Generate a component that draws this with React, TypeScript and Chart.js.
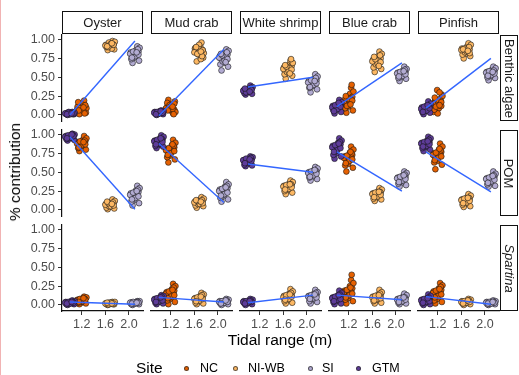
import React, { useEffect, useRef } from "react";
import { Chart, registerables } from "chart.js";

Chart.register(...registerables);

// ---------- data ----------
const species = ["Oyster", "Mud crab", "White shrimp", "Blue crab", "Pinfish"];
const sources = ["Benthic algae", "POM", "Spartina"];
const sites = ["NC", "NI-WB", "SI", "GTM"];
const siteColors = ["#E66101", "#FDB863", "#B2ABD2", "#5E3C99"];
const siteTidalRange = [1.2, 1.68, 2.1, 1.0];
const xTicks = [1.2, 1.6, 2.0];
const yTicks = [0, 0.25, 0.5, 0.75, 1];
const xLimits = [0.866, 2.237];
const yLimits = [-0.08, 1.06];
// horizontal jitter offsets (tidal-range units) applied to the i-th point of a cluster
const jitterX = [-0.05, 0.02, 0.07, -0.07, 0.04, -0.01, 0.06, -0.04, 0.0, 0.08, -0.06, 0.03, -0.02, 0.05, -0.08, 0.01, -0.03, 0.06, -0.05, 0.03];

// Benthic algae (per species: Oyster, Mud crab, White shrimp, Blue crab, Pinfish)
const benthicNC = [
  [0.08, 0.15, 0.03, 0.11, 0.19, 0.06, 0.12, 0.01, 0.14, 0.09, 0.17, 0.05, 0.10, 0.02, 0.07, 0.11, 0.09, 0.13, 0.06, 0.10],
  [0.12, 0.05, 0.18, 0.09, 0.02, 0.14, 0.07, 0.20, 0.11, 0.04, 0.16, 0.08, 0.13, 0.01, 0.09, 0.12, 0.10, 0.15, 0.06, 0.11],
  [],
  [0.15, 0.28, 0.06, 0.20, 0.36, 0.11, 0.24, 0.03, 0.18, 0.31, 0.09, 0.22, 0.13, 0.40, 0.16, 0.21, 0.12, 0.19, 0.25, 0.14],
  [0.18, 0.09, 0.27, 0.04, 0.21, 0.33, 0.12, 0.16, 0.02, 0.25, 0.07, 0.30, 0.14, 0.19, 0.15, 0.20, 0.11, 0.17, 0.23, 0.13],
];
const benthicNIWB = [
  [0.91, 0.95, 0.87, 0.93, 0.98, 0.89, 0.94, 0.86, 0.92, 0.97, 0.90, 0.88, 0.96, 0.93, 0.92, 0.94, 0.90, 0.93, 0.91, 0.95],
  [0.84, 0.91, 0.76, 0.88, 0.96, 0.80, 0.86, 0.71, 0.93, 0.82, 0.89, 0.74, 0.85, 0.78, 0.83, 0.87, 0.81, 0.86, 0.90, 0.84],
  [0.60, 0.67, 0.52, 0.63, 0.72, 0.56, 0.65, 0.48, 0.59, 0.69, 0.54, 0.62, 0.57, 0.74, 0.61, 0.58, 0.64, 0.60, 0.66, 0.55],
  [0.70, 0.78, 0.61, 0.73, 0.84, 0.66, 0.75, 0.57, 0.69, 0.81, 0.63, 0.72, 0.67, 0.79, 0.71, 0.68, 0.74, 0.70, 0.77, 0.65],
  [0.85, 0.91, 0.78, 0.88, 0.95, 0.81, 0.87, 0.75, 0.84, 0.93, 0.80, 0.89, 0.83, 0.90, 0.86, 0.84, 0.88, 0.82, 0.87, 0.85],
];
const benthicSI = [
  [0.80, 0.86, 0.72, 0.83, 0.91, 0.76, 0.84, 0.69, 0.79, 0.89, 0.74, 0.82, 0.78, 0.87, 0.81, 0.78, 0.84, 0.80, 0.76, 0.83],
  [0.75, 0.82, 0.64, 0.78, 0.87, 0.69, 0.80, 0.59, 0.73, 0.85, 0.67, 0.77, 0.71, 0.83, 0.76, 0.72, 0.79, 0.74, 0.81, 0.70],
  [0.42, 0.48, 0.34, 0.45, 0.54, 0.38, 0.46, 0.30, 0.41, 0.51, 0.36, 0.44, 0.39, 0.49, 0.43, 0.40, 0.46, 0.42, 0.37, 0.45],
  [0.54, 0.59, 0.48, 0.56, 0.64, 0.50, 0.57, 0.45, 0.53, 0.61, 0.49, 0.55, 0.52, 0.60, 0.55, 0.52, 0.57, 0.54, 0.51, 0.58],
  [0.55, 0.60, 0.49, 0.57, 0.64, 0.51, 0.58, 0.46, 0.54, 0.62, 0.50, 0.56, 0.53, 0.59, 0.56, 0.53, 0.58, 0.55, 0.52, 0.57],
];
const benthicGTM = [
  [0.02, 0.03, 0.01, 0.02, 0.04, 0.01, 0.03, 0.00, 0.02, 0.03, 0.01, 0.02, 0.04, 0.01, 0.02, 0.01, 0.03, 0.02, 0.01, 0.02],
  [0.03, 0.05, 0.01, 0.04, 0.06, 0.02, 0.03, 0.00, 0.04, 0.05, 0.02, 0.03, 0.01, 0.04, 0.03, 0.02, 0.04, 0.03, 0.01, 0.05],
  [0.32, 0.35, 0.28, 0.33, 0.39, 0.30, 0.34, 0.27, 0.31, 0.37, 0.29, 0.33, 0.31, 0.36, 0.32, 0.34, 0.30, 0.33, 0.35, 0.31],
  [0.10, 0.15, 0.04, 0.12, 0.20, 0.07, 0.13, 0.02, 0.09, 0.17, 0.06, 0.11, 0.08, 0.14, 0.10, 0.08, 0.13, 0.11, 0.05, 0.16],
  [0.08, 0.13, 0.03, 0.10, 0.18, 0.05, 0.11, 0.01, 0.07, 0.15, 0.04, 0.09, 0.06, 0.12, 0.08, 0.06, 0.11, 0.09, 0.04, 0.13],
];
// POM
const pomNC = [
  [0.88, 0.93, 0.80, 0.90, 0.98, 0.84, 0.91, 0.78, 0.87, 0.95, 0.82, 0.89, 0.85, 0.92, 0.88, 0.86, 0.91, 0.87, 0.83, 0.90],
  [0.78, 0.86, 0.67, 0.81, 0.93, 0.72, 0.83, 0.63, 0.77, 0.89, 0.70, 0.80, 0.74, 0.85, 0.79, 0.76, 0.82, 0.78, 0.73, 0.87],
  [],
  [0.68, 0.76, 0.56, 0.71, 0.84, 0.61, 0.73, 0.51, 0.66, 0.80, 0.59, 0.70, 0.64, 0.75, 0.69, 0.65, 0.72, 0.67, 0.62, 0.77],
  [0.72, 0.80, 0.60, 0.75, 0.88, 0.65, 0.77, 0.54, 0.70, 0.84, 0.63, 0.74, 0.68, 0.79, 0.73, 0.69, 0.76, 0.71, 0.66, 0.81],
];
const pomNIWB = [
  [0.07, 0.11, 0.02, 0.08, 0.14, 0.04, 0.09, 0.01, 0.06, 0.12, 0.03, 0.07, 0.05, 0.10, 0.07, 0.05, 0.09, 0.06, 0.11, 0.08],
  [0.10, 0.14, 0.05, 0.11, 0.17, 0.07, 0.12, 0.03, 0.09, 0.15, 0.06, 0.10, 0.08, 0.13, 0.10, 0.08, 0.12, 0.09, 0.13, 0.11],
  [0.30, 0.35, 0.23, 0.32, 0.39, 0.26, 0.33, 0.21, 0.29, 0.37, 0.25, 0.31, 0.28, 0.34, 0.31, 0.28, 0.33, 0.30, 0.27, 0.34],
  [0.20, 0.25, 0.14, 0.22, 0.29, 0.16, 0.23, 0.12, 0.19, 0.27, 0.15, 0.21, 0.18, 0.24, 0.21, 0.18, 0.23, 0.20, 0.17, 0.24],
  [0.12, 0.17, 0.05, 0.14, 0.21, 0.08, 0.15, 0.04, 0.11, 0.19, 0.07, 0.13, 0.10, 0.16, 0.13, 0.10, 0.15, 0.12, 0.09, 0.16],
];
const pomSI = [
  [0.19, 0.26, 0.09, 0.22, 0.32, 0.13, 0.24, 0.06, 0.17, 0.29, 0.11, 0.20, 0.15, 0.27, 0.20, 0.16, 0.23, 0.18, 0.14, 0.25],
  [0.24, 0.31, 0.14, 0.27, 0.37, 0.18, 0.29, 0.11, 0.22, 0.34, 0.16, 0.25, 0.20, 0.32, 0.25, 0.21, 0.28, 0.23, 0.19, 0.30],
  [0.48, 0.53, 0.41, 0.50, 0.57, 0.44, 0.51, 0.39, 0.47, 0.55, 0.43, 0.49, 0.46, 0.52, 0.49, 0.46, 0.51, 0.48, 0.44, 0.53],
  [0.41, 0.46, 0.33, 0.43, 0.51, 0.36, 0.44, 0.31, 0.40, 0.49, 0.35, 0.42, 0.38, 0.47, 0.42, 0.39, 0.44, 0.41, 0.37, 0.46],
  [0.40, 0.45, 0.32, 0.42, 0.51, 0.35, 0.44, 0.31, 0.39, 0.48, 0.34, 0.41, 0.37, 0.46, 0.41, 0.38, 0.43, 0.40, 0.36, 0.45],
];
const pomGTM = [
  [0.97, 0.99, 0.93, 0.98, 1.01, 0.95, 0.98, 0.92, 0.96, 1.00, 0.94, 0.97, 0.95, 0.99, 0.97, 0.96, 0.99, 0.98, 0.95, 1.00],
  [0.90, 0.95, 0.84, 0.92, 0.99, 0.86, 0.93, 0.82, 0.89, 0.97, 0.85, 0.91, 0.88, 0.94, 0.91, 0.88, 0.93, 0.90, 0.87, 0.95],
  [0.65, 0.68, 0.59, 0.66, 0.71, 0.61, 0.67, 0.58, 0.64, 0.70, 0.60, 0.65, 0.63, 0.69, 0.66, 0.64, 0.68, 0.65, 0.62, 0.67],
  [0.82, 0.89, 0.71, 0.85, 0.95, 0.75, 0.87, 0.68, 0.80, 0.92, 0.73, 0.84, 0.78, 0.90, 0.83, 0.80, 0.86, 0.82, 0.77, 0.88],
  [0.87, 0.92, 0.80, 0.89, 0.97, 0.83, 0.90, 0.78, 0.86, 0.95, 0.82, 0.88, 0.85, 0.93, 0.88, 0.85, 0.90, 0.87, 0.84, 0.91],
];
// Spartina
const spartinaNC = [
  [0.06, 0.09, 0.02, 0.07, 0.11, 0.03, 0.08, 0.01, 0.05, 0.10, 0.03, 0.06, 0.04, 0.08, 0.06, 0.05, 0.08, 0.07, 0.04, 0.09],
  [0.14, 0.21, 0.04, 0.17, 0.28, 0.08, 0.19, 0.01, 0.12, 0.25, 0.06, 0.15, 0.10, 0.23, 0.15, 0.12, 0.18, 0.13, 0.09, 0.20],
  [],
  [0.16, 0.25, 0.05, 0.19, 0.33, 0.09, 0.22, 0.02, 0.14, 0.29, 0.07, 0.18, 0.12, 0.40, 0.17, 0.13, 0.20, 0.15, 0.10, 0.23],
  [0.15, 0.22, 0.04, 0.18, 0.29, 0.08, 0.20, 0.02, 0.13, 0.26, 0.06, 0.16, 0.11, 0.24, 0.16, 0.12, 0.19, 0.14, 0.10, 0.21],
];
const spartinaNIWB = [
  [0.02, 0.03, 0.01, 0.02, 0.04, 0.01, 0.03, 0.00, 0.02, 0.04, 0.01, 0.02, 0.03, 0.01, 0.02, 0.03, 0.01, 0.02, 0.03, 0.02],
  [0.08, 0.12, 0.02, 0.09, 0.16, 0.04, 0.11, 0.01, 0.07, 0.14, 0.03, 0.09, 0.06, 0.13, 0.08, 0.06, 0.10, 0.08, 0.05, 0.11],
  [0.10, 0.15, 0.03, 0.12, 0.21, 0.06, 0.13, 0.02, 0.09, 0.18, 0.05, 0.11, 0.08, 0.16, 0.10, 0.08, 0.13, 0.11, 0.07, 0.14],
  [0.10, 0.14, 0.03, 0.11, 0.20, 0.06, 0.13, 0.02, 0.09, 0.17, 0.05, 0.10, 0.07, 0.15, 0.10, 0.08, 0.12, 0.09, 0.06, 0.13],
  [0.04, 0.06, 0.01, 0.05, 0.08, 0.02, 0.05, 0.00, 0.03, 0.07, 0.02, 0.04, 0.03, 0.06, 0.04, 0.03, 0.05, 0.04, 0.02, 0.06],
];
const spartinaSI = [
  [0.03, 0.04, 0.01, 0.03, 0.05, 0.02, 0.04, 0.00, 0.03, 0.05, 0.01, 0.03, 0.02, 0.04, 0.03, 0.02, 0.04, 0.03, 0.02, 0.03],
  [0.04, 0.06, 0.01, 0.05, 0.08, 0.02, 0.05, 0.00, 0.03, 0.07, 0.02, 0.04, 0.03, 0.06, 0.04, 0.03, 0.05, 0.04, 0.02, 0.06],
  [0.11, 0.15, 0.04, 0.12, 0.20, 0.06, 0.13, 0.02, 0.10, 0.17, 0.05, 0.11, 0.08, 0.16, 0.11, 0.09, 0.13, 0.10, 0.08, 0.14],
  [0.07, 0.11, 0.02, 0.08, 0.15, 0.04, 0.09, 0.01, 0.06, 0.13, 0.03, 0.07, 0.05, 0.10, 0.07, 0.05, 0.09, 0.07, 0.04, 0.10],
  [0.03, 0.05, 0.01, 0.04, 0.06, 0.02, 0.04, 0.00, 0.03, 0.05, 0.01, 0.03, 0.02, 0.04, 0.03, 0.02, 0.04, 0.03, 0.02, 0.04],
];
const spartinaGTM = [
  [0.03, 0.05, 0.01, 0.04, 0.06, 0.02, 0.04, 0.00, 0.03, 0.05, 0.01, 0.03, 0.02, 0.04, 0.03, 0.02, 0.04, 0.03, 0.02, 0.04],
  [0.07, 0.10, 0.02, 0.08, 0.13, 0.04, 0.09, 0.01, 0.06, 0.12, 0.03, 0.07, 0.05, 0.11, 0.07, 0.05, 0.09, 0.06, 0.04, 0.10],
  [0.04, 0.06, 0.01, 0.05, 0.08, 0.02, 0.05, 0.00, 0.03, 0.07, 0.02, 0.04, 0.03, 0.06, 0.04, 0.03, 0.05, 0.04, 0.02, 0.05],
  [0.09, 0.13, 0.02, 0.10, 0.19, 0.05, 0.12, 0.01, 0.08, 0.16, 0.04, 0.10, 0.07, 0.14, 0.09, 0.07, 0.11, 0.08, 0.05, 0.13],
  [0.06, 0.09, 0.01, 0.07, 0.14, 0.03, 0.08, 0.00, 0.05, 0.12, 0.02, 0.06, 0.04, 0.10, 0.06, 0.04, 0.08, 0.05, 0.03, 0.09],
];
// linear fit values at the lowest (GTM) and highest (SI) tidal range, per species
const benthicFit = [[0.0, 0.98], [-0.01, 0.87], [0.37, 0.5], [0.11, 0.69], [0.09, 0.75]];
const pomFit = [[0.97, 0.01], [0.88, 0.1], [0.61, 0.5], [0.77, 0.25], [0.77, 0.24]];
const spartinaFit = [[0.04, 0.01], [0.1, 0.04], [0.03, 0.13], [0.13, 0.07], [0.11, 0.01]];

const sourceSeries = [
  [benthicNC, benthicNIWB, benthicSI, benthicGTM],
  [pomNC, pomNIWB, pomSI, pomGTM],
  [spartinaNC, spartinaNIWB, spartinaSI, spartinaGTM],
];
const sourceFits = [benthicFit, pomFit, spartinaFit];

// ---------- layout ----------
const FONT = "'Liberation Sans', Arial, Helvetica, sans-serif";
const PANEL_LEFT0 = 62;
const COL_PITCH = 89;
const PANEL_W = 81;
const ROW_TOPS = [35, 130, 225];
const PANEL_H = 86;
const PAD = 10;
const YAXIS_W = 42;
const XAXIS_H = 26;

function Panel({ row, col }: { row: number; col: number }) {
  const ref = useRef<HTMLCanvasElement | null>(null);
  const isLeft = col === 0;
  const isBottom = row === 2;
  const left = PANEL_LEFT0 + COL_PITCH * col - PAD - (isLeft ? YAXIS_W : 0);
  const top = ROW_TOPS[row] - PAD;
  const width = PANEL_W + 2 * PAD + (isLeft ? YAXIS_W : 0);
  const height = PANEL_H + 2 * PAD + (isBottom ? XAXIS_H : 0);

  useEffect(() => {
    if (!ref.current) return;
    const series = sourceSeries[row];
    const fit = sourceFits[row][col];
    const xLo = Math.min(...siteTidalRange);
    const xHi = Math.max(...siteTidalRange);
    const datasets: any[] = [
      {
        type: "scatter",
        data: [
          { x: xLo, y: fit[0] },
          { x: xHi, y: fit[1] },
        ],
        showLine: true,
        borderColor: "#3366FF",
        borderWidth: 1.4,
        pointRadius: 0,
        fill: false,
      },
    ];
    // draw order: NC first, GTM on top
    [3, 2, 1, 0].forEach((s) => {
      const vals: number[] = series[s][col];
      datasets.push({
        type: "scatter",
        data: vals.map((v, i) => ({ x: siteTidalRange[s] + jitterX[i % jitterX.length], y: v })),
        pointRadius: 2.9,
        pointBorderWidth: 0.7,
        pointBorderColor: "rgba(20,20,20,0.85)",
        pointBackgroundColor: siteColors[s],
      });
    });

    const xScale: any = {
      type: "linear",
      min: xLimits[0],
      max: xLimits[1],
      display: isBottom,
      afterBuildTicks: (s: any) => {
        s.ticks = xTicks.map((v) => ({ value: v }));
      },
      ticks: {
        callback: (v: any) => Number(v).toFixed(1),
        color: "#4D4D4D",
        font: { family: FONT, size: 12.5 },
        padding: 2,
        maxRotation: 0,
        autoSkip: false,
      },
      grid: { display: true, drawOnChartArea: false, drawTicks: true, tickLength: 4, tickColor: "#333", tickWidth: 1 },
      border: { display: true, color: "#111", width: 1.2 },
    };
    if (isBottom)
      xScale.afterFit = (s: any) => {
        s.height = XAXIS_H;
        s.paddingLeft = 0;
        s.paddingRight = 0;
      };
    const yScale: any = {
      type: "linear",
      min: yLimits[0],
      max: yLimits[1],
      display: isLeft,
      afterBuildTicks: (s: any) => {
        s.ticks = yTicks.map((v) => ({ value: v }));
      },
      ticks: {
        callback: (v: any) => Number(v).toFixed(2),
        color: "#4D4D4D",
        font: { family: FONT, size: 12.5 },
        padding: 3,
        autoSkip: false,
      },
      grid: { display: true, drawOnChartArea: false, drawTicks: true, tickLength: 4, tickColor: "#333", tickWidth: 1 },
      border: { display: true, color: "#111", width: 1.2 },
    };
    if (isLeft)
      yScale.afterFit = (s: any) => {
        s.width = YAXIS_W;
        s.paddingTop = 0;
        s.paddingBottom = 0;
      };

    const chart = new Chart(ref.current, {
      type: "scatter",
      data: { datasets },
      options: {
        animation: false,
        responsive: false,
        events: [],
        layout: { padding: PAD },
        plugins: { legend: { display: false }, tooltip: { enabled: false } },
        scales: { x: xScale, y: yScale },
      },
    } as any);
    return () => chart.destroy();
  }, [row, col]);

  return (
    <canvas
      ref={ref}
      width={width}
      height={height}
      style={{ position: "absolute", left, top, width, height }}
    />
  );
}

export default function App() {
  const legendItems = [
    { label: sites[0], dot: 186.5, text: 200 },
    { label: sites[1], dot: 235, text: 248 },
    { label: sites[2], dot: 310, text: 322 },
    { label: sites[3], dot: 358, text: 372 },
  ];
  return (
    <div
      style={{
        position: "fixed",
        left: 0,
        top: 0,
        width: 519,
        height: 375,
        background: "#fff",
        fontFamily: FONT,
        overflow: "hidden",
      }}
    >
      <div style={{ position: "absolute", left: 0, top: 0, width: 1, height: 375, background: "#f1b3b3" }} />
      {sources.map((_, r) =>
        species.map((__, c) => <Panel key={`${r}-${c}`} row={r} col={c} />)
      )}
      {species.map((sp, c) => (
        <div
          key={sp}
          style={{
            position: "absolute",
            left: PANEL_LEFT0 + COL_PITCH * c,
            top: 11,
            width: PANEL_W,
            height: 23,
            boxSizing: "border-box",
            border: "1px solid #111",
            display: "flex",
            alignItems: "center",
            justifyContent: "center",
            fontSize: 13,
            color: "#1a1a1a",
            whiteSpace: "nowrap",
          }}
        >
          {sp}
        </div>
      ))}
      {sources.map((src, r) => (
        <div
          key={src}
          style={{
            position: "absolute",
            left: 500,
            top: ROW_TOPS[r],
            width: 18,
            height: PANEL_H,
            boxSizing: "border-box",
            border: "1px solid #111",
            display: "flex",
            alignItems: "center",
            justifyContent: "center",
          }}
        >
          <span
            style={{
              transform: "rotate(90deg)",
              whiteSpace: "nowrap",
              fontSize: 13,
              color: "#1a1a1a",
              fontStyle: src === "Spartina" ? "italic" : "normal",
            }}
          >
            {src}
          </span>
        </div>
      ))}
      <div
        style={{
          position: "absolute",
          left: 15,
          top: 172,
          transform: "translate(-50%, -50%) rotate(-90deg)",
          whiteSpace: "nowrap",
          fontSize: 15.5,
          color: "#000",
        }}
      >
        % contribution
      </div>
      <div
        style={{
          position: "absolute",
          left: 280,
          top: 340,
          transform: "translate(-50%, -50%)",
          whiteSpace: "nowrap",
          fontSize: 15.5,
          color: "#000",
        }}
      >
        Tidal range (m)
      </div>
      <div
        style={{
          position: "absolute",
          left: 136,
          top: 368,
          transform: "translateY(-50%)",
          fontSize: 15.5,
          color: "#000",
          whiteSpace: "nowrap",
        }}
      >
        Site
      </div>
      {legendItems.map((it, i) => (
        <React.Fragment key={it.label}>
          <div
            style={{
              position: "absolute",
              left: it.dot - 2.5,
              top: 368 - 2.5,
              width: 5,
              height: 5,
              boxSizing: "border-box",
              borderRadius: "50%",
              background: siteColors[i],
              border: "0.6px solid rgba(40,40,40,0.7)",
            }}
          />
          <div
            style={{
              position: "absolute",
              left: it.text,
              top: 368,
              transform: "translateY(-50%)",
              fontSize: 12.5,
              color: "#000",
              whiteSpace: "nowrap",
            }}
          >
            {it.label}
          </div>
        </React.Fragment>
      ))}
    </div>
  );
}
